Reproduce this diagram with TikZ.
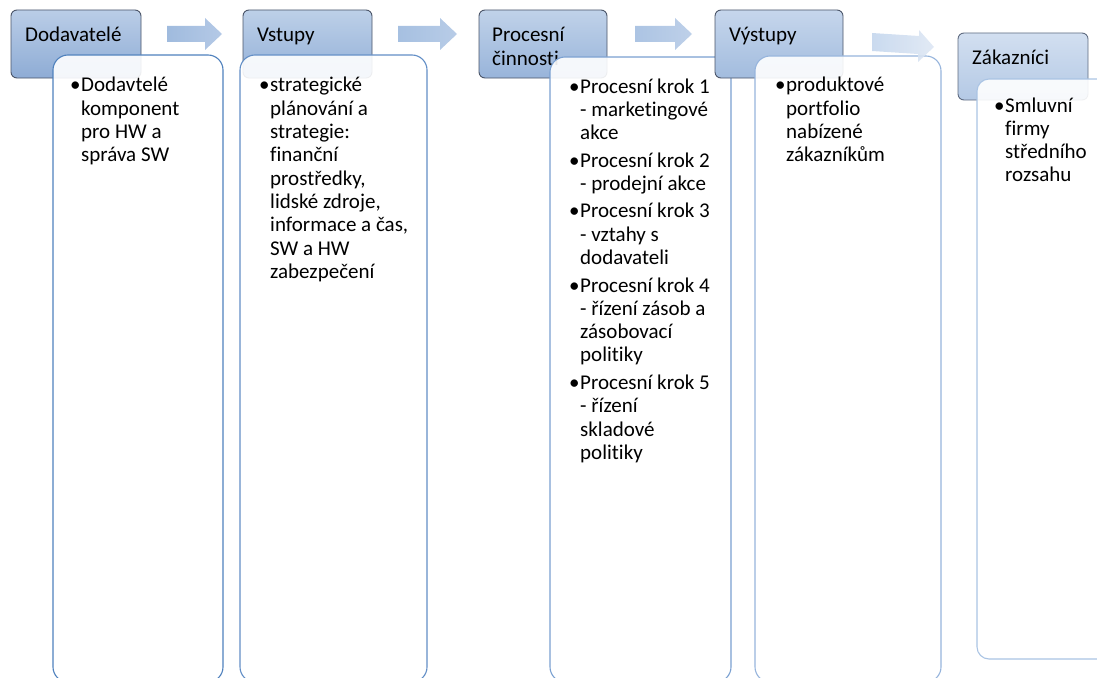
\documentclass[tikz,border=0pt]{standalone}
\usepackage{fontspec}
\setmainfont{Carlito}[Ligatures={NoCommon}]
% header fills (top / bottom), body outlines, arrow fills
\definecolor{hedge}{HTML}{4A5468}
\definecolor{hedgeb}{HTML}{5F6B80}
\definecolor{hAt}{HTML}{BACDE7}\definecolor{hAb}{HTML}{8EACD5}
\definecolor{hBt}{HTML}{BDD0E8}\definecolor{hBb}{HTML}{93B0D8}
\definecolor{hCt}{HTML}{C0D2E9}\definecolor{hCb}{HTML}{98B4DA}
\definecolor{hDt}{HTML}{C6D6EC}\definecolor{hDb}{HTML}{A2BCDE}
\definecolor{hEt}{HTML}{D2DFF0}\definecolor{hEb}{HTML}{B4C9E5}
\definecolor{bA}{HTML}{4F81BD}
\definecolor{bB}{HTML}{628EC6}
\definecolor{bC}{HTML}{7AA0D1}
\definecolor{bD}{HTML}{96B4DC}
\definecolor{bE}{HTML}{AAC4E4}
\definecolor{aAl}{HTML}{A0BBDE}\definecolor{aAr}{HTML}{B4C9E6}
\definecolor{aBl}{HTML}{A6C0E1}\definecolor{aBr}{HTML}{B8CCE7}
\definecolor{aCl}{HTML}{ACC4E3}\definecolor{aCr}{HTML}{BED0E9}
\definecolor{aDl}{HTML}{C4D6ED}\definecolor{aDr}{HTML}{DEE7F4}
\begin{document}
\newcommand\litem[1]{\noindent\hangindent=11pt\hangafter=1\makebox[11pt][l]{•}#1\par}
\newcommand\listbox[2]{\parbox[t]{#1}{\fontsize{21}{23.3}\selectfont\parskip=4.2pt\parfillskip=0pt plus 1fil #2}}
\begin{tikzpicture}[x=1pt,y=-1pt,
  headbox/.style={draw=#1, line width=0.9pt, rounded corners=6pt},
  bodybox/.style={draw=#1, line width=1.1pt, fill=white, fill opacity=0.9, rounded corners=15pt},
  blockarrow/.style={draw=none},
  headtext/.style={anchor=base west, inner sep=0pt, font=\fontsize{21}{23.3}\selectfont},
  bodytext/.style={anchor=base west, inner sep=0pt}]
\useasboundingbox (0,0) rectangle (1097,677);
\clip (0,0) rectangle (1097,677);

% column 1: suppliers
\path[headbox=hedge, top color=hAt, bottom color=hAb] (11,10) rectangle (141,78);
\node[headtext] (h1) at (25,42) {Dodavatelé};
\path[bodybox=bA] (53,55) rectangle (223,682);
\node[bodytext] (b1) at (70,92) {\listbox{150pt}{\litem{Dodavtelé\\komponent\\pro HW a\\správa SW}}};

% arrow 1
\path[blockarrow, left color=aAl, right color=aAr]
  (167,26) -- (205,26) -- (205,18) -- (222,34) -- (205,50) -- (205,42) -- (167,42) -- cycle;

% column 2: inputs
\path[headbox=hedge, top color=hBt, bottom color=hBb] (243,10) rectangle (372,78);
\node[headtext] (h2) at (257,42) {Vstupy};
\path[bodybox=bB] (240,55) rectangle (427,682);
\node[bodytext] (b2) at (259,92) {\listbox{170pt}{\litem{strategické\\plánování a\\strategie:\\finanční\\prostředky,\\lidské zdroje,\\informace a čas,\\SW a HW\\zabezpečení}}};

% arrow 2
\path[blockarrow, left color=aBl, right color=aBr]
  (398,26) -- (440,26) -- (440,18) -- (457,34) -- (440,50) -- (440,42) -- (398,42) -- cycle;

% column 3: process activities
\path[headbox=hedge, top color=hCt, bottom color=hCb] (479,10) rectangle (607,78);
\node[headtext] (h3) at (492,42) {\parbox[t]{110pt}{\fontsize{21}{23.3}\selectfont Procesní\\činnosti}};
\path[bodybox=bC] (550,57) rectangle (731,682);
\node[bodytext] (b3) at (569,93) {\listbox{170pt}{%
  \litem{Procesní krok 1\\- marketingové\\akce}
  \litem{Procesní krok 2\\- prodejní akce}
  \litem{Procesní krok 3\\- vztahy s\\dodavateli}
  \litem{Procesní krok 4\\- řízení zásob a\\zásobovací\\politiky}
  \litem{Procesní krok 5\\- řízení\\skladové\\politiky}}};

% arrow 3
\path[blockarrow, left color=aCl, right color=aCr]
  (635,26) -- (675,26) -- (675,18) -- (692,34) -- (675,50) -- (675,42) -- (635,42) -- cycle;

% column 4: outputs
\path[headbox=hedge, top color=hDt, bottom color=hDb] (715,10) rectangle (843,78);
\node[headtext] (h4) at (729,42) {Výstupy};
\path[bodybox=bD] (755,56) rectangle (941,682);
\node[bodytext] (b4) at (775,92) {\listbox{170pt}{\litem{produktové\\portfolio\\nabízené\\zákazníkům}}};

% arrow 4, slightly tilted and fading out
\path[blockarrow, fill opacity=0.9, left color=aDl, right color=aDr]
  (872,33) -- (919,36) -- (919,30) -- (934,47) -- (918,62) -- (918,54) -- (872,51) -- cycle;

% column 5: customers
\path[headbox=hedgeb, top color=hEt, bottom color=hEb] (958,33) rectangle (1088,100);
\node[headtext] (h5) at (972,65) {Zákazníci};
\path[bodybox=bE, rounded corners=12pt] (977,79) rectangle (1110,659);
\node[bodytext] (b5) at (994,112) {\listbox{110pt}{\litem{Smluvní\\firmy\\středního\\rozsahu}}};
\end{tikzpicture}
\end{document}
